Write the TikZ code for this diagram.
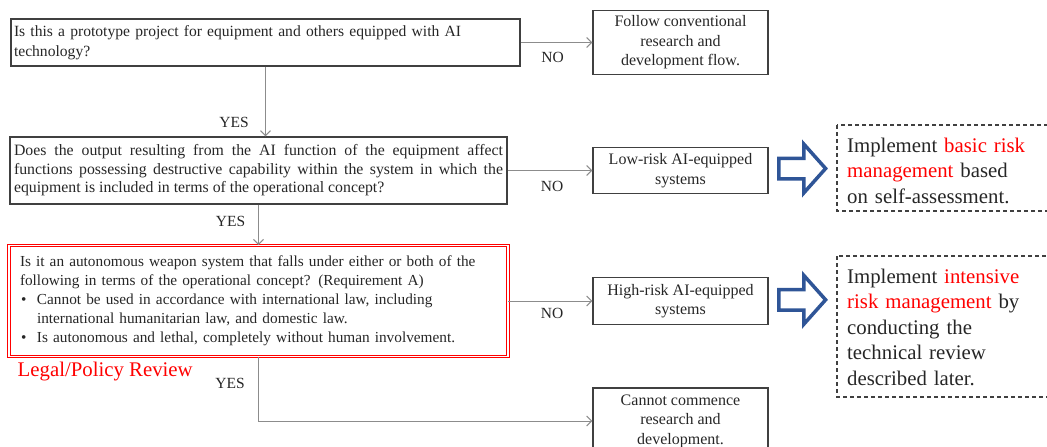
\documentclass[tikz,border=0pt]{standalone}
\usepackage{fontspec}
\setmainfont{Liberation Serif}
\usetikzlibrary{arrows.meta}

\definecolor{ink}{HTML}{262626}
\definecolor{edge}{HTML}{404040}
\definecolor{wirec}{HTML}{8C8C8C}
\definecolor{alert}{HTML}{FF0000}
\definecolor{navy}{HTML}{2F5597}

\newcommand\widespaces{\spaceskip=9pt plus 2pt minus 1pt\relax}

\tikzset{
  question/.style={rectangle, draw=edge, line width=1.2pt, inner sep=0pt, text=ink},
  outcome/.style={rectangle, draw=edge, line width=1.2pt, inner sep=0pt,
    minimum width=175pt, align=center, text=ink,
    font=\fontsize{16}{19.5}\selectfont},
  wire/.style={draw=wirec, line width=1pt, -{Straight Barb[length=5pt,width=10pt]}},
  answer/.style={inner sep=0pt, text=ink, font=\fontsize{15.5}{18}\selectfont},
  dashbox/.style={draw=edge, line width=1.2pt, dash pattern=on 4pt off 3pt},
  note/.style={inner sep=0pt, text width=185pt, align=left, text=ink,
    font=\fontsize{20.8}{25.5}\selectfont\widespaces},
  bigarrow/.style={draw=navy, fill=white, line width=3.5pt, line join=miter},
}

\newcommand\blockarrow[1]{%
  \draw[bigarrow, shift={(0,#1)}]
    (778.75,-10.25) -- (803.75,-10.25) -- (803.75,-24.5) -- (825.6,0)
    -- (803.75,24.5) -- (803.75,10.25) -- (778.75,10.25) -- cycle;}

\begin{document}
\begin{tikzpicture}[x=1pt, y=-1pt]
\useasboundingbox (0,0) rectangle (1047,447);
\clip (0,0) rectangle (1047,447);

% decision boxes
\node[question, minimum width=509pt, minimum height=47pt, text width=503pt,
      align=left, font=\fontsize{15.6}{20}\selectfont] (q1) at (265.5,42.5)
  {Is this a prototype project for equipment and others equipped with AI\\technology?};

\node[question, minimum width=497pt, minimum height=67pt, text width=489pt,
      align=justify, font=\fontsize{15.8}{18.5}\selectfont] (q2) at (258.5,170.5)
  {Does the output resulting from the AI function of the equipment affect\linebreak
   functions possessing destructive capability within the system in which the\linebreak
   equipment is included in terms of the operational concept?};

\node[question, draw=alert, double=white, double distance=1.4pt, line width=0.9pt,
      minimum width=499pt, minimum height=111pt, text width=477pt,
      align=left, font=\fontsize{15.3}{19}\selectfont] (q3) at (258.5,301)
  {Is it an autonomous weapon system that falls under either or both of the\\
   following in terms of the operational concept? (Requirement A)\\
   \makebox[17pt][l]{\hspace{1pt}•}Cannot be used in accordance with international law, including\\
   \hspace*{17pt}international humanitarian law, and domestic law.\\
   \makebox[17pt][l]{\hspace{1pt}•}Is autonomous and lethal, completely without human involvement.};

\node[anchor=west, inner sep=0pt, text=alert, font=\fontsize{20.8}{24}\selectfont]
  (legal) at (17.5,372) {Legal/Policy Review};

% outcome boxes
\node[outcome, minimum height=64pt] (follow) at (680.5,42.5)
  {Follow conventional\\research and\\development flow.};
\node[outcome, minimum height=46pt] (low) at (680.5,170.5)
  {Low-risk AI-equipped\\systems};
\node[outcome, minimum height=47pt] (high) at (680.5,301)
  {High-risk AI-equipped\\systems};
\node[outcome, minimum height=66pt] (stop) at (680.5,421)
  {Cannot commence\\research and\\development.};

% connectors
\draw[wire] (q1.south) -- (q1.south |- q2.north);
\draw[wire] (q2.south) -- (q3.north);
\draw[wire] (q3.south) |- (stop.west);
\draw[wire] (q1.east) -- (follow.west);
\draw[wire] (q2.east) -- (low.west);
\draw[wire] (q3.east) -- (high.west);

% branch labels
\node[answer] (yes1) at (234,122) {YES};
\node[answer] (yes2) at (230.5,221) {YES};
\node[answer] (yes3) at (230,383.5) {YES};
\node[answer] (no1) at (552.5,57.5) {NO};
\node[answer] (no2) at (552,186) {NO};
\node[answer] (no3) at (552,313) {NO};

% block arrows
\blockarrow{168.5}
\blockarrow{299.8}

% risk management notes
\draw[dashbox] (837,125) rectangle (1070,211);
\node[note, anchor=north west] (basic) at (847,137.8)
  {Implement \textcolor{alert}{basic risk}\\
   \textcolor{alert}{management} based\\
   on self-assessment.};

\draw[dashbox] (837,256) rectangle (1070,397);
\node[note, anchor=north west] (intensive) at (847,268.8)
  {Implement \textcolor{alert}{intensive}\\
   \textcolor{alert}{risk management} by\\
   conducting the\\
   technical review\\
   described later.};
\end{tikzpicture}
\end{document}
